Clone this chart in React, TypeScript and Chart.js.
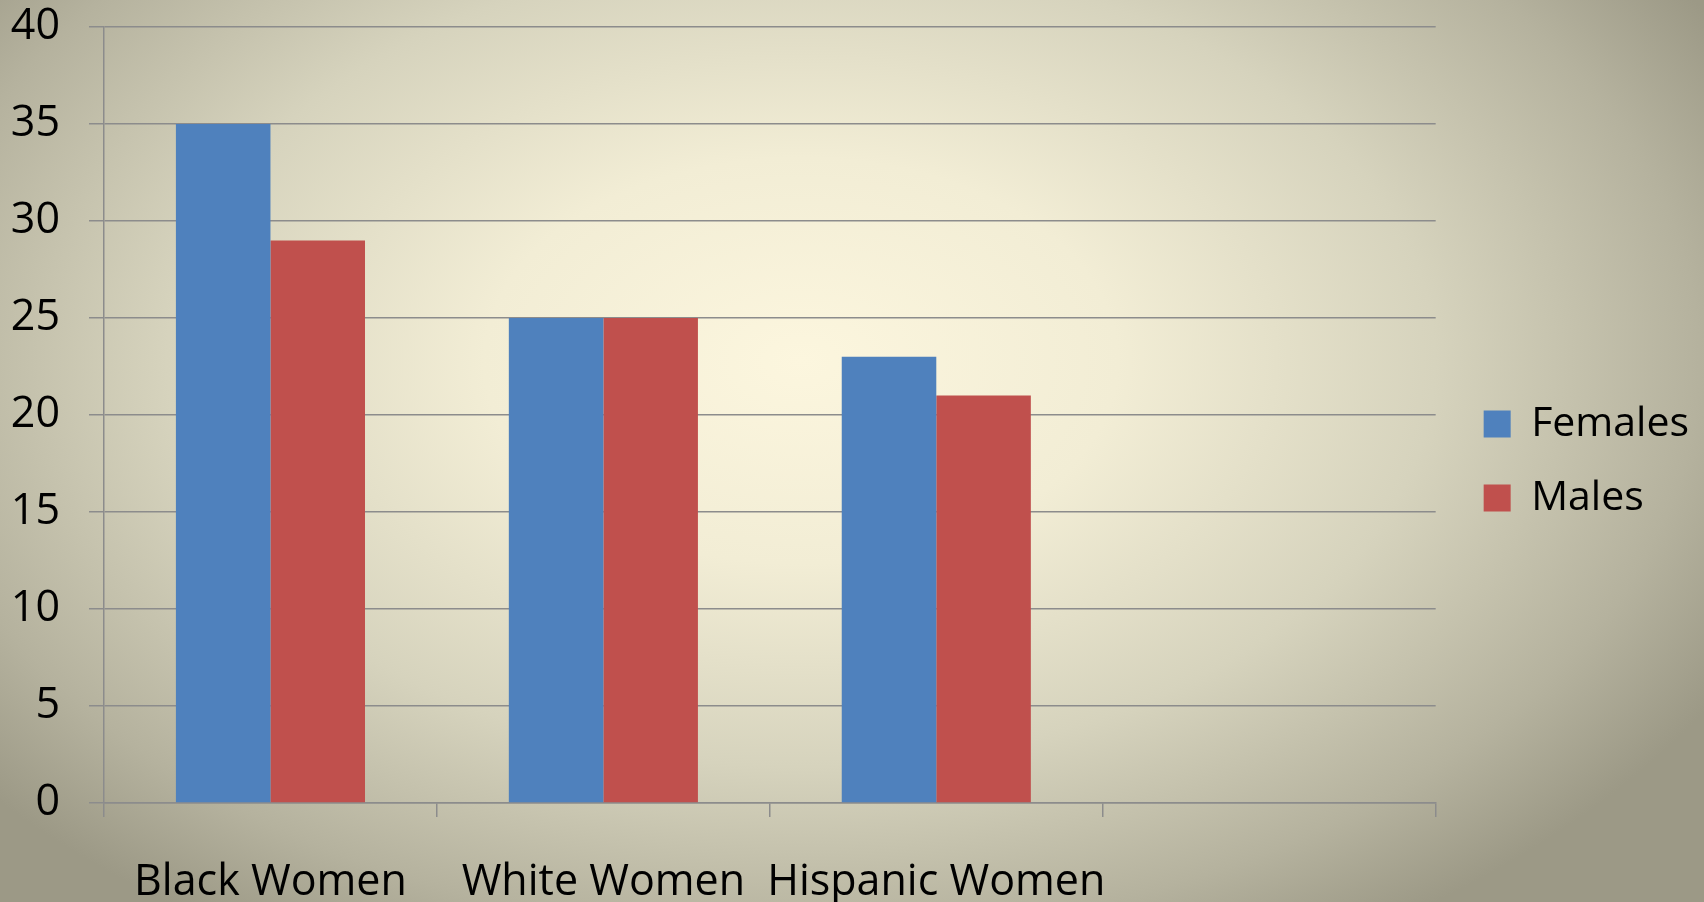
import React, { useEffect, useRef } from "react";
import { Chart, registerables } from "chart.js";

Chart.register(...registerables);

const categories = ["Black Women", "White Women", "Hispanic Women", ""];
const femalesValues = [35, 25, 23, null];
const malesValues = [29, 25, 21, null];
const seriesNames = ["Females", "Males"];
const yTicks = { min: 0, max: 40, step: 5 };

const FONT = "'Open Sans', sans-serif";
const GRID = "#8c8c8c";

export default function App() {
  const ref = useRef<HTMLCanvasElement | null>(null);

  useEffect(() => {
    if (!ref.current) return;
    const chart = new Chart(ref.current, {
      type: "bar",
      data: {
        labels: categories,
        datasets: [
          {
            label: seriesNames[0],
            data: femalesValues,
            backgroundColor: "#4f81bd",
            categoryPercentage: 0.568,
            barPercentage: 1.0,
            yAxisID: "y",
          },
          {
            label: seriesNames[1],
            data: malesValues,
            backgroundColor: "#c0504d",
            categoryPercentage: 0.568,
            barPercentage: 1.0,
            yAxisID: "y",
          },
        ],
      },
      options: {
        animation: false,
        responsive: false,
        maintainAspectRatio: false,
        layout: { padding: { top: 20, left: 0, right: 5, bottom: 0 } },
        plugins: {
          tooltip: { enabled: false },
          legend: {
            position: "right",
            align: "center",
            labels: {
              boxWidth: 27,
              boxHeight: 27,
              padding: 33,
              color: "#000",
              font: { family: FONT, size: 41 },
            },
          },
        },
        scales: {
          x: {
            grid: {
              offset: true,
              drawOnChartArea: false,
              drawTicks: true,
              tickLength: 14,
              color: GRID,
              lineWidth: 1.5,
            },
            border: { display: true, color: GRID, width: 1.5 },
            ticks: {
              color: "#000",
              font: { family: FONT, size: 43 },
              padding: 40,
              maxRotation: 0,
              autoSkip: false,
            },
            afterFit: (s: any) => {
              s.height = 99;
            },
          },
          y: {
            min: yTicks.min,
            max: yTicks.max,
            grid: {
              color: GRID,
              lineWidth: 1.5,
              drawTicks: true,
              tickLength: 15,
            },
            border: { display: true, color: GRID, width: 1.5 },
            ticks: {
              stepSize: yTicks.step,
              color: "#000",
              font: { family: FONT, size: 43 },
              padding: 29,
            },
            afterFit: (s: any) => {
              s.width = 104;
              s.paddingTop = 27;
              s.paddingBottom = 0;
            },
          },
          spacer: {
            type: "linear",
            position: "right",
            display: true,
            grid: { display: false, drawTicks: false },
            border: { display: false },
            ticks: { display: false },
            afterFit: (s: any) => {
              s.width = 15;
            },
          },
        },
      },
    });
    return () => chart.destroy();
  }, []);

  return (
    <div
      style={{
        position: "fixed",
        left: 0,
        top: 0,
        width: 1704,
        height: 902,
        background:
          "radial-gradient(ellipse 62% 75% at 47% 40%, #fcf6de 0%, #f2edd5 30%, #d6d3bd 60%, #b5b29e 85%, #9c9986 100%)",
      }}
    >
      <canvas ref={ref} width={1704} height={902} style={{ display: "block" }} />
    </div>
  );
}
